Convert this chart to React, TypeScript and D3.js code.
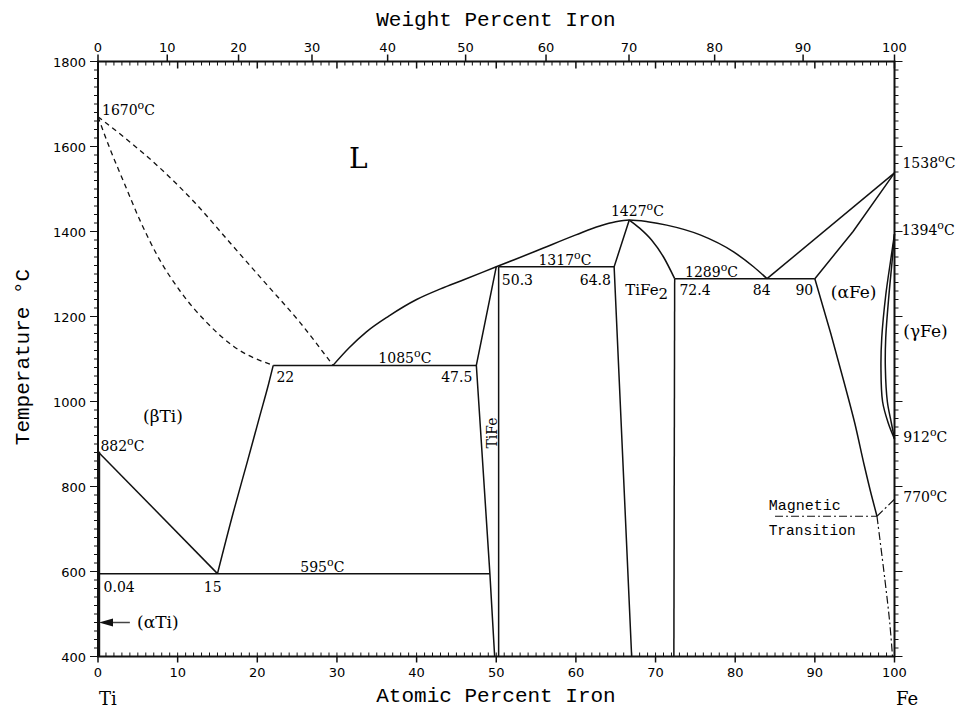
import * as d3 from "d3";

const W = 959;
const H = 711;

type Pt = [number, number]; // [atomic % Fe, temperature °C]

// phase boundaries
const liquidusTi: Pt[] = [[0, 1670], [3.4, 1620], [7.8, 1549], [12.2, 1467], [16.6, 1373], [21, 1279], [25.4, 1185], [29.5, 1085]];
const solidusTi: Pt[] = [[0, 1670], [1.6, 1590], [3.2, 1518], [5.3, 1425], [7.4, 1345], [10.3, 1260], [13.7, 1185], [17, 1130], [22, 1085]];
const betaSolvus: Pt[] = [[22, 1085], [21.4, 1040], [20.3, 965], [18.7, 855], [17, 740], [15, 595]];
const betaTransus: Pt[] = [[0, 882], [15, 595]];
const alphaTi: Pt[] = [[0.12, 400], [0.12, 882]];
const liquidus: Pt[] = [
  [29.5, 1085], [31.5, 1126], [33.7, 1164], [36.5, 1201], [40, 1240], [43, 1265], [46, 1287], [50, 1317], [55, 1354],
  [60, 1392], [63, 1413], [65, 1423], [66.7, 1427], [69, 1423], [71.4, 1415], [75.6, 1392], [79.8, 1352], [82.3, 1317], [84, 1289],
];
const liquidusFe: Pt[] = [[84, 1289], [100, 1538]];
const solidusFe: Pt[] = [[90, 1289], [94.8, 1400], [100, 1538]];
const alphaFeSolvus: Pt[] = [[90, 1289], [92, 1160], [93.6, 1050], [95, 950], [96.2, 850], [97.1, 780], [97.8, 730]];
const tiFeLeft: Pt[] = [[50, 1317], [47.5, 1085], [49.2, 595], [49.8, 400]];
const tiFeRight: Pt[] = [[50.3, 1317], [50.3, 400]];
const tiFe2Left: Pt[] = [[66.7, 1427], [64.8, 1317], [67, 400]];
const tiFe2Top: Pt[] = [[66.7, 1427], [68, 1408], [69.5, 1380], [71, 1340], [72.4, 1289]];
const tiFe2Right: Pt[] = [[72.4, 1289], [72.3, 400]];
const gammaOuter: Pt[] = [[100, 1394], [99.5, 1330], [98.9, 1250], [98.4, 1150], [98.3, 1080], [98.5, 1000], [99.2, 950], [100, 912]];
const gammaInner: Pt[] = [[100, 1394], [99.7, 1330], [99.3, 1250], [98.9, 1150], [98.85, 1080], [99.1, 1000], [99.6, 950], [100, 912]];
// horizontal invariant lines: [from %, to %, °C]
const isotherms: [number, number, number][] = [[0, 49.2, 595], [22, 47.5, 1085], [50.3, 64.8, 1317], [72.4, 90, 1289]];
// magnetic transition (dash-dot)
const magneticFlat: Pt[] = [[85, 730], [97.8, 730]];
const magneticUp: Pt[] = [[97.8, 730], [100, 770]];
const magneticDown: Pt[] = [[97.8, 730], [98.8, 580], [99.4, 480], [99.75, 400]];

const atTicks = d3.range(0, 101, 10);
const wtTicks = d3.range(0, 101, 10);
const tempTicks = d3.range(400, 1801, 200);

// temperature labels [value, at%, °C of baseline]
const tempLabels: [number, number, number][] = [
  [1670, 0.5, 1674], [882, 0.3, 883], [595, 25.4, 599], [1085, 35.2, 1090], [1317, 55.3, 1321],
  [1427, 64.4, 1436], [1289, 73.7, 1293], [1538, 101, 1549], [1394, 100.9, 1392], [912, 101.1, 905], [770, 101.1, 764],
];
// composition labels [text, at%, °C, anchor]
const compLabels: [string, number, number, string?][] = [
  ["0.04", 0.7, 552], ["15", 14.4, 552, "middle"], ["22", 22.4, 1047], ["47.5", 47, 1047, "end"],
  ["50.3", 50.7, 1274], ["64.8", 64.4, 1274, "end"], ["72.4", 73, 1251], ["84", 82.2, 1251], ["90", 89.8, 1251, "end"],
];
const phaseLabels: [string, number, number][] = [["(βTi)", 5.65, 952], ["(αTi)", 4.9, 467], ["(αFe)", 92, 1243], ["(γFe)", 101.1, 1152]];

const x = d3.scaleLinear().domain([0, 100]).range([98, 894.5]);
const y = d3.scaleLinear().domain([400, 1800]).range([656.5, 61.5]);

const wtToAt = (w: number) => {
  const fe = w / 55.845;
  const ti = (100 - w) / 47.867;
  return (100 * fe) / (fe + ti);
};

const lin = d3.line<Pt>().x((d) => x(d[0])).y((d) => y(d[1]));
const smoothX = d3.line<Pt>().x((d) => x(d[0])).y((d) => y(d[1])).curve(d3.curveMonotoneX);
const smoothY = d3.line<Pt>().x((d) => x(d[0])).y((d) => y(d[1])).curve(d3.curveMonotoneY);
const smooth = d3.line<Pt>().x((d) => x(d[0])).y((d) => y(d[1])).curve(d3.curveCatmullRom.alpha(0.5));

const SERIF = "'DejaVu Serif', serif";
const SANS = "'DejaVu Sans', sans-serif";
const MONO = "'Liberation Mono', 'Courier New', monospace";

const TempLabel = ({ v, at, t }: { v: number; at: number; t: number }) => (
  <text x={x(at)} y={y(t)} fontFamily={SERIF} fontSize={14}>
    {v}
    <tspan fontSize={11} dy={-6}>o</tspan>
    <tspan dy={6}>C</tspan>
  </text>
);

export default function App() {
  const minorAt = d3.range(0, 101, 1);
  const minorT = d3.range(400, 1801, 20);
  const stroke = "#111";
  return (
    <svg width={W} height={H} style={{ position: "absolute", left: 0, top: 0, background: "#fff" }}>
      <rect width={W} height={H} fill="#fff" />
      {/* frame */}
      <rect x={x(0)} y={y(1800)} width={x(100) - x(0)} height={y(400) - y(1800)} fill="none" stroke={stroke} strokeWidth={2} />
      {/* bottom axis */}
      {minorAt.map((d) => (
        <line key={"bm" + d} x1={x(d)} x2={x(d)} y1={y(400)} y2={y(400) - 4} stroke={stroke} strokeWidth={1} />
      ))}
      {atTicks.map((d) => (
        <g key={"b" + d}>
          <line x1={x(d)} x2={x(d)} y1={y(400)} y2={y(400) + 6} stroke={stroke} strokeWidth={1.5} />
          <text x={x(d)} y={677} textAnchor="middle" fontFamily={SANS} fontSize={13}>{d}</text>
        </g>
      ))}
      {/* top axis */}
      {minorAt.map((d) => (
        <line key={"tm" + d} x1={x(d)} x2={x(d)} y1={y(1800)} y2={y(1800) + (d % 10 === 0 ? 7 : 4)} stroke={stroke} strokeWidth={d % 10 === 0 ? 1.5 : 1} />
      ))}
      {wtTicks.map((d) => (
        <g key={"w" + d}>
          <line x1={x(wtToAt(d))} x2={x(wtToAt(d))} y1={y(1800)} y2={y(1800) - 7} stroke={stroke} strokeWidth={1.5} />
          <text x={x(wtToAt(d))} y={52} textAnchor="middle" fontFamily={SANS} fontSize={13}>{d}</text>
        </g>
      ))}
      {/* left and right axes */}
      {minorT.map((d) => (
        <g key={"lm" + d}>
          <line x1={x(0)} x2={x(0) - (d % 200 === 0 ? 8 : 4)} y1={y(d)} y2={y(d)} stroke={stroke} strokeWidth={1} />
          <line x1={x(100)} x2={x(100) + (d % 200 === 0 ? 8 : 4)} y1={y(d)} y2={y(d)} stroke={stroke} strokeWidth={1} />
        </g>
      ))}
      {tempTicks.map((d) => (
        <text key={"l" + d} x={86} y={y(d) + 5} textAnchor="end" fontFamily={SANS} fontSize={13}>{d}</text>
      ))}

      {/* axis titles */}
      <text x={496} y={26} textAnchor="middle" fontFamily={MONO} fontSize={21}>Weight Percent Iron</text>
      <text x={496} y={702} textAnchor="middle" fontFamily={MONO} fontSize={21}>Atomic Percent Iron</text>
      <text transform="translate(29,357) rotate(-90)" textAnchor="middle" fontFamily={MONO} fontSize={21}>Temperature °C</text>
      <text x={99} y={705} fontFamily={SERIF} fontSize={18}>Ti</text>
      <text x={896} y={705} fontFamily={SERIF} fontSize={18}>Fe</text>

      {/* dashed boundaries */}
      <g fill="none" stroke={stroke} strokeWidth={1.3} strokeDasharray="5,4">
        <path d={smoothX(liquidusTi) ?? ""} />
        <path d={smoothX(solidusTi) ?? ""} />
      </g>
      {/* solid boundaries */}
      <g fill="none" stroke={stroke} strokeWidth={1.5}>
        <path d={smoothY(betaSolvus) ?? ""} />
        <path d={lin(betaTransus) ?? ""} />
        <path d={smoothX(liquidus) ?? ""} />
        <path d={lin(liquidusFe) ?? ""} />
        <path d={lin(solidusFe) ?? ""} />
        <path d={smoothY(alphaFeSolvus) ?? ""} />
        <path d={lin(tiFeLeft) ?? ""} />
        <path d={lin(tiFeRight) ?? ""} />
        <path d={lin(tiFe2Left) ?? ""} />
        <path d={smoothX(tiFe2Top) ?? ""} />
        <path d={lin(tiFe2Right) ?? ""} />
        <path d={smooth(gammaOuter) ?? ""} />
        <path d={smooth(gammaInner) ?? ""} />
        {isotherms.map(([a, b, t]) => (
          <line key={"iso" + t} x1={x(a)} x2={x(b)} y1={y(t)} y2={y(t)} />
        ))}
      </g>
      <path d={lin(alphaTi) ?? ""} stroke={stroke} strokeWidth={2.5} fill="none" />
      {/* magnetic transition */}
      <g fill="none" stroke={stroke} strokeWidth={1.2} strokeDasharray="8,3,2,3">
        <path d={lin(magneticFlat) ?? ""} />
        <path d={lin(magneticUp) ?? ""} />
        <path d={smooth(magneticDown) ?? ""} />
      </g>
      {/* alpha Ti arrow */}
      <line x1={x(0) + 10} x2={x(4)} y1={y(480)} y2={y(480)} stroke="#444" strokeWidth={1.5} />
      <path d={`M${x(0) + 1},${y(480)} L${x(0) + 15},${y(480) - 4} L${x(0) + 15},${y(480) + 4} Z`} fill="#111" />

      {/* labels */}
      {tempLabels.map(([v, at, t]) => (
        <TempLabel key={"t" + v} v={v} at={at} t={t} />
      ))}
      {compLabels.map(([s, at, t, anchor]) => (
        <text key={"c" + s} x={x(at)} y={y(t)} textAnchor={anchor ?? "start"} fontFamily={SERIF} fontSize={14}>{s}</text>
      ))}
      {phaseLabels.map(([s, at, t]) => (
        <text key={"p" + s} x={x(at)} y={y(t)} fontFamily={SERIF} fontSize={17}>{s}</text>
      ))}
      <text x={x(31.5)} y={y(1549)} fontFamily={SERIF} fontSize={28}>L</text>
      <text x={x(66.2)} y={y(1251)} fontFamily={SERIF} fontSize={15}>
        TiFe<tspan dy={4}>2</tspan>
      </text>
      <text transform={`translate(${x(49.5) + 5},${y(926)}) rotate(-90)`} textAnchor="middle" fontFamily={SERIF} fontSize={14}>TiFe</text>
      <text x={x(84.2)} y={y(745)} fontFamily={MONO} fontSize={15}>Magnetic</text>
      <text x={x(84.2)} y={y(686)} fontFamily={MONO} fontSize={14.5}>Transition</text>
    </svg>
  );
}
